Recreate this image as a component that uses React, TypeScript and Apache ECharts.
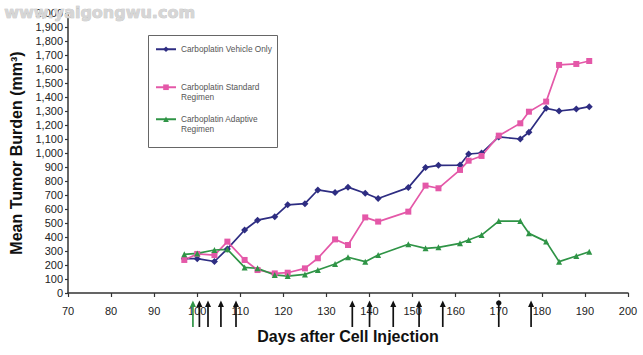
import React, { useEffect, useRef } from "react";
import * as echarts from "echarts";

const days = [97, 100, 104, 107, 111, 114, 118, 121, 125, 128, 132, 135, 139, 142, 149, 153, 156, 161, 163, 166, 170, 175, 177, 181, 184, 188, 191];
const vehicleOnly = [245, 245, 225, 315, 450, 520, 545, 630, 638, 736, 717, 756, 713, 675, 753, 897, 912, 914, 993, 1000, 1115, 1100, 1148, 1319, 1300, 1314, 1331];
const standardRegimen = [236, 279, 271, 367, 236, 164, 140, 145, 176, 248, 383, 343, 540, 510, 581, 767, 748, 879, 945, 979, 1124, 1212, 1295, 1367, 1629, 1636, 1657];
const adaptiveRegimen = [276, 283, 307, 312, 183, 176, 129, 121, 133, 164, 207, 255, 224, 271, 348, 319, 326, 355, 379, 414, 514, 514, 426, 367, 224, 264, 295];

// treatment markers under the x axis: kind 1 = green arrow, 0 = black arrow, 2 = black dot marker
const treatmentDays = [99, 100.5, 102.5, 105.5, 109, 136, 140, 145.5, 151.5, 157, 170, 177.5];
const treatmentKinds = [1, 0, 0, 0, 0, 0, 0, 0, 0, 0, 2, 0];

const seriesNames = ["Carboplatin Vehicle Only", "Carboplatin Standard Regimen", "Carboplatin Adaptive Regimen"];
const legendLabels = ["Carboplatin Vehicle Only", "\nCarboplatin Standard\nRegimen", "\nCarboplatin Adaptive\nRegimen"];

const BLUE = "#2e2d82";
const PINK = "#e458a8";
const GREEN = "#2f9446";
const FONT = "Liberation Sans, Arial, sans-serif";

export default function App() {
  const ref = useRef<HTMLDivElement>(null);
  useEffect(() => {
    if (!ref.current) return;
    const chart = echarts.init(ref.current, undefined, { renderer: "svg" });
    const pair = (vals: number[]) => days.map((d, i) => [d, vals[i]]);
    const legendTops = [44.5, 73, 105];
    const legends = seriesNames.map((name, i) => ({
      data: [name],
      left: 155,
      top: legendTops[i],
      orient: "vertical",
      padding: 0,
      itemWidth: 20,
      itemHeight: 7,
      formatter: () => legendLabels[i],
      textStyle: {
        fontSize: 8.3,
        lineHeight: 9.5,
        color: "#555",
        fontFamily: FONT,
      },
      selectedMode: false,
    }));
    const lineSeries = (name: string, vals: number[], color: string, symbol: string, size: number) => ({
      name,
      type: "line",
      data: pair(vals),
      symbol,
      symbolSize: size,
      lineStyle: { color, width: 1.7 },
      itemStyle: { color },
      z: 3,
    });
    chart.setOption({
      animation: false,
      backgroundColor: "#fff",
      grid: { left: 65, right: 15, top: 13, bottom: 62 },
      legend: legends,
      xAxis: {
        type: "value",
        min: 70,
        max: 200,
        interval: 10,
        name: "Days after Cell Injection",
        nameLocation: "middle",
        nameGap: 35,
        nameTextStyle: { fontSize: 16, fontWeight: "bold", color: "#111", fontFamily: FONT },
        axisLine: { lineStyle: { color: "#333", width: 1.5 } },
        axisTick: { length: 4, lineStyle: { color: "#333", width: 1.2 } },
        axisLabel: { fontSize: 11, color: "#222", margin: 12, fontFamily: FONT },
        splitLine: { show: false },
      },
      yAxis: {
        type: "value",
        min: 0,
        max: 2000,
        interval: 100,
        name: "Mean Tumor Burden (mm³)",
        nameLocation: "middle",
        nameGap: 44,
        nameTextStyle: { fontSize: 16, fontWeight: "bold", color: "#111", fontFamily: FONT },
        axisLine: { show: true, lineStyle: { color: "#333", width: 1.5 } },
        axisTick: { show: true, length: 3, lineStyle: { color: "#333", width: 1.2 } },
        axisLabel: {
          fontSize: 11,
          color: "#222",
          margin: 5,
          fontFamily: FONT,
          formatter: (v: number) => v.toLocaleString("en-US"),
        },
        splitLine: { show: false },
      },
      graphic: [
        {
          type: "rect",
          left: 148,
          top: 35,
          shape: { width: 129, height: 112 },
          style: { fill: "#fff", stroke: "#666", lineWidth: 1 },
          z: 1,
        },
        {
          type: "text",
          left: 4,
          top: 4,
          z: 100,
          style: {
            text: "www.yaigongwu.com",
            font: "bold 16px DejaVu Sans, sans-serif",
            fill: "#d6d6d6",
            stroke: "#b8b8b8",
            lineWidth: 0.6,
          },
        },
      ],
      series: [
        lineSeries(seriesNames[0], vehicleOnly, BLUE, "diamond", 7),
        lineSeries(seriesNames[1], standardRegimen, PINK, "rect", 6),
        lineSeries(seriesNames[2], adaptiveRegimen, GREEN, "triangle", 6),
        {
          name: "treatments",
          type: "custom",
          clip: false,
          silent: true,
          z: 10,
          data: treatmentDays.map((d, i) => [d, treatmentKinds[i]]),
          encode: { x: 0, y: 1 },
          renderItem: (params: any, api: any) => {
            const day = api.value(0);
            const kind = api.value(1);
            const p = api.coord([day, 0]);
            const x = p[0];
            const y = p[1];
            const color = kind === 1 ? GREEN : "#111";
            const top = y + 9;
            const bottom = y + 34;
            const children: any[] = [
              { type: "line", shape: { x1: x, y1: top + 3, x2: x, y2: bottom }, style: { stroke: color, lineWidth: 1.7 } },
            ];
            if (kind === 2) {
              children.push({ type: "circle", shape: { cx: x, cy: top + 1, r: 2.7 }, style: { fill: color } });
            } else {
              children.push({
                type: "polygon",
                shape: { points: [[x, top - 1.5], [x - 3, top + 5], [x + 3, top + 5]] },
                style: { fill: color },
              });
            }
            return { type: "group", children };
          },
        },
      ],
    });
    return () => chart.dispose();
  }, []);
  return <div ref={ref} style={{ position: "absolute", left: 0, top: 0, width: 643, height: 355 }} />;
}
